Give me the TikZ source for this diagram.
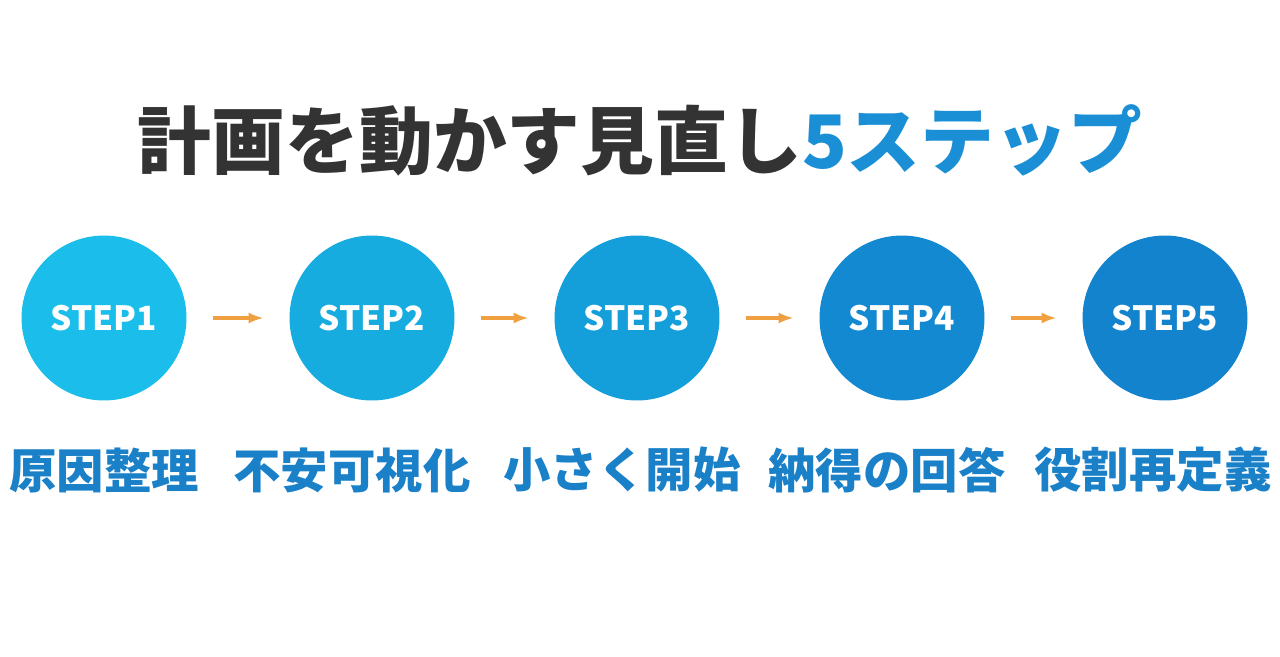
\documentclass[tikz,border=0pt]{standalone}
\usepackage{fontspec}
\newfontfamily\cjk{Noto Sans CJK JP}
\usepackage{tikz}
\definecolor{titlegray}{HTML}{333333}
\definecolor{accent}{HTML}{1A8FD6}
\definecolor{labelblue}{HTML}{1A80C8}
\definecolor{arroworange}{HTML}{F0A040}
\definecolor{stepA}{HTML}{1BBEEB}
\definecolor{stepB}{HTML}{17ACE0}
\definecolor{stepC}{HTML}{149FDA}
\definecolor{stepD}{HTML}{1289D0}
\definecolor{stepE}{HTML}{1283CC}

\begin{document}
\begin{tikzpicture}[x=0.02cm, y=-0.02cm,
    stepcircle/.style={circle, minimum size=3.3cm, inner sep=0pt, text=white, font=\cjk\bfseries\fontsize{19}{22}\selectfont},
    steplabel/.style={text=labelblue, font=\cjk\bfseries\fontsize{27}{30}\selectfont},
    every path/.style={-latex, line width=1.8pt, arroworange}]
        \useasboundingbox (0,0) rectangle (1280,656);
        \node[font=\cjk\bfseries\fontsize{42}{46}\selectfont, text=titlegray] (title) at (640,140) {計画を動かす見直し\textcolor{accent}{5ステップ}};

        \node[stepcircle, fill=stepA] (s1) at (104,318) {STEP1};
        \node[stepcircle, fill=stepB] (s2) at (372,318) {STEP2};
        \node[stepcircle, fill=stepC] (s3) at (637,318) {STEP3};
        \node[stepcircle, fill=stepD] (s4) at (902,318) {STEP4};
        \node[stepcircle, fill=stepE] (s5) at (1165,318) {STEP5};

        \node[steplabel] (l1) at (104,470) {原因整理};
        \node[steplabel] (l2) at (352,470) {不安可視化};
        \node[steplabel] (l3) at (622,470) {小さく開始};
        \node[steplabel] (l4) at (887,470) {納得の回答};
        \node[steplabel] (l5) at (1153,470) {役割再定義};

        \draw ([xshift=0.5cm]s1.east) -- ([xshift=-0.5cm]s2.west);
        \draw ([xshift=0.5cm]s2.east) -- ([xshift=-0.5cm]s3.west);
        \draw ([xshift=0.5cm]s3.east) -- ([xshift=-0.5cm]s4.west);
        \draw ([xshift=0.5cm]s4.east) -- ([xshift=-0.5cm]s5.west);
    \end{tikzpicture}
\end{document}
